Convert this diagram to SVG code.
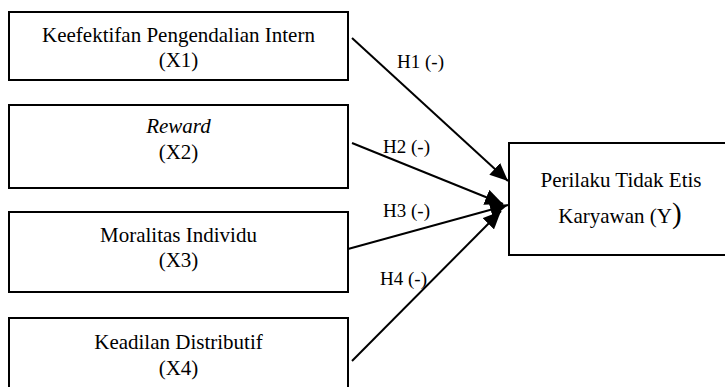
<svg xmlns="http://www.w3.org/2000/svg" width="725" height="387" viewBox="0 0 725 387">
<style>
.box{fill:#fff;stroke:#000;stroke-width:2}
.t{font-family:"Liberation Serif","Times New Roman",serif;font-size:21px;fill:#000;text-anchor:middle}
.lbl{font-family:"Liberation Serif","Times New Roman",serif;font-size:19px;fill:#000}
.c{stroke:#000;stroke-width:2;fill:none;marker-end:url(#ah)}
</style>
<defs>
<marker id="ah" markerUnits="userSpaceOnUse" markerWidth="18" markerHeight="16" viewBox="0 0 18 16" refX="18" refY="8" orient="auto">
<path d="M0,0 L18,8 L0,16 Z" fill="#000"/>
</marker>
</defs>
<rect width="725" height="387" fill="#fff"/>
<g id="x1"><rect class="box" x="9" y="12" width="339" height="68"/>
<text class="t" x="178.5" y="42">Keefektifan Pengendalian Intern</text>
<text class="t" x="178.5" y="67">(X1)</text></g>
<g id="x2"><rect class="box" x="9" y="105" width="339" height="83"/>
<text class="t" x="178.5" y="133" font-style="italic">Reward</text>
<text class="t" x="178.5" y="159">(X2)</text></g>
<g id="x3"><rect class="box" x="9" y="212" width="339" height="80"/>
<text class="t" x="178.5" y="242">Moralitas Individu</text>
<text class="t" x="178.5" y="267">(X3)</text></g>
<g id="x4"><rect class="box" x="9" y="318" width="339" height="80"/>
<text class="t" x="178.5" y="349">Keadilan Distributif</text>
<text class="t" x="178.5" y="375">(X4)</text></g>
<g id="y"><rect class="box" x="509" y="143" width="230" height="112"/>
<text class="t" x="621" y="187">Perilaku Tidak Etis</text>
<text class="t" x="620" y="223">Karyawan (Y<tspan font-size="29">)</tspan></text></g>
<g id="connectors">
<line class="c" x1="352" y1="38" x2="508" y2="181"/>
<line class="c" x1="352" y1="143" x2="503" y2="204"/>
<line class="c" x1="348" y1="249" x2="508" y2="205"/>
<line class="c" x1="352" y1="361" x2="501" y2="211"/>
<text class="lbl" x="397" y="68">H1 (-)</text>
<text class="lbl" x="383" y="153">H2 (-)</text>
<text class="lbl" x="383" y="217">H3 (-)</text>
<text class="lbl" x="380" y="285">H4 (-)</text>
</g>
</svg>
